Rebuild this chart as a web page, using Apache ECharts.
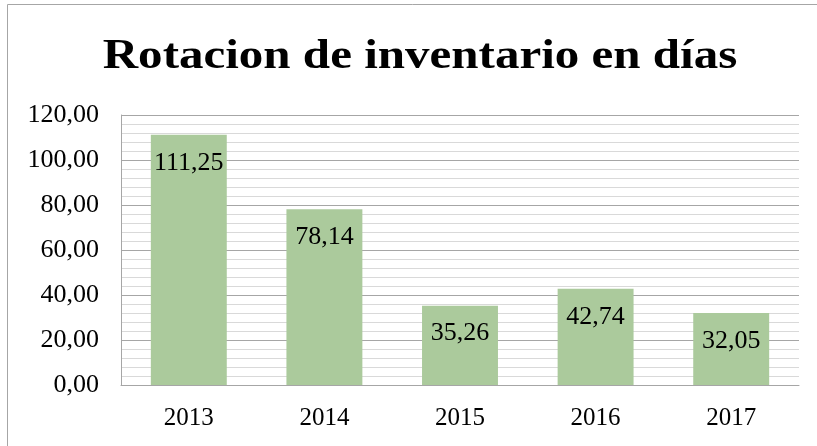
<!DOCTYPE html>
<html style="height: 100%">
<head>
    <meta charset="utf-8">
</head>
<body style="height: 100%; margin: 0; background: #fff">
    <div id="container" style="height: 100%"></div>
    <script type="text/javascript" src="https://cdn.jsdelivr.net/npm/echarts@6/dist/echarts.min.js"></script>
    <script type="text/javascript">
        var years = ['2013', '2014', '2015', '2016', '2017'];
        var dias = [111.25, 78.14, 35.26, 42.74, 32.05];
        var yTicks = [0, 20, 40, 60, 80, 100, 120];
        var titulo = 'Rotacion de inventario en días';

        function coma(v) {
            return v.toFixed(2).replace('.', ',');
        }

        var dom = document.getElementById("container");
        var myChart = echarts.init(dom);
        var option = {
            backgroundColor: '#fff',
            textStyle: { fontFamily: 'Liberation Serif' },
            graphic: [{
                // marco: solo arriba e izquierda
                type: 'polyline',
                shape: { points: [[7.5, 446], [7.5, 4.5], [817, 4.5]] },
                style: { fill: 'none', stroke: '#a6a6a6', lineWidth: 1 },
                silent: true
            }, {
                type: 'text',
                x: 420,
                y: 57,
                scaleX: 1.14,
                style: {
                    text: titulo,
                    fontFamily: 'Liberation Serif',
                    fontSize: 43,
                    fontWeight: 'bold',
                    fill: '#000',
                    align: 'center',
                    verticalAlign: 'middle'
                },
                silent: true
            }],
            grid: { left: 121, right: 18, top: 115, bottom: 61 },
            xAxis: {
                type: 'category',
                data: years,
                axisLine: { lineStyle: { color: '#a6a6a6' } },
                axisTick: { show: false },
                axisLabel: { color: '#000', fontSize: 25, margin: 21, fontFamily: 'Liberation Serif' }
            },
            yAxis: {
                type: 'value',
                min: yTicks[0],
                max: yTicks[yTicks.length - 1],
                interval: 20,
                axisLine: { show: true, lineStyle: { color: '#a6a6a6' } },
                axisTick: { show: false },
                axisLabel: {
                    color: '#000', fontSize: 26, margin: 22, fontFamily: 'Liberation Serif',
                    formatter: function (v) { return coma(v); }
                },
                splitLine: { lineStyle: { color: '#a6a6a6', width: 1 } },
                minorTick: { show: false, splitNumber: 5 },
                minorSplitLine: { show: true, lineStyle: { color: '#d9d9d9', width: 1 } }
            },
            series: [{
                type: 'bar',
                data: dias,
                barWidth: '56%',
                itemStyle: { color: '#abca9c' },
                label: {
                    show: true,
                    position: 'insideTop',
                    distance: 15,
                    color: '#000',
                    fontSize: 26,
                    fontFamily: 'Liberation Serif',
                    formatter: function (p) { return coma(p.value); }
                }
            }]
        };
        myChart.setOption(option, true);
    </script>
</body>
</html>
